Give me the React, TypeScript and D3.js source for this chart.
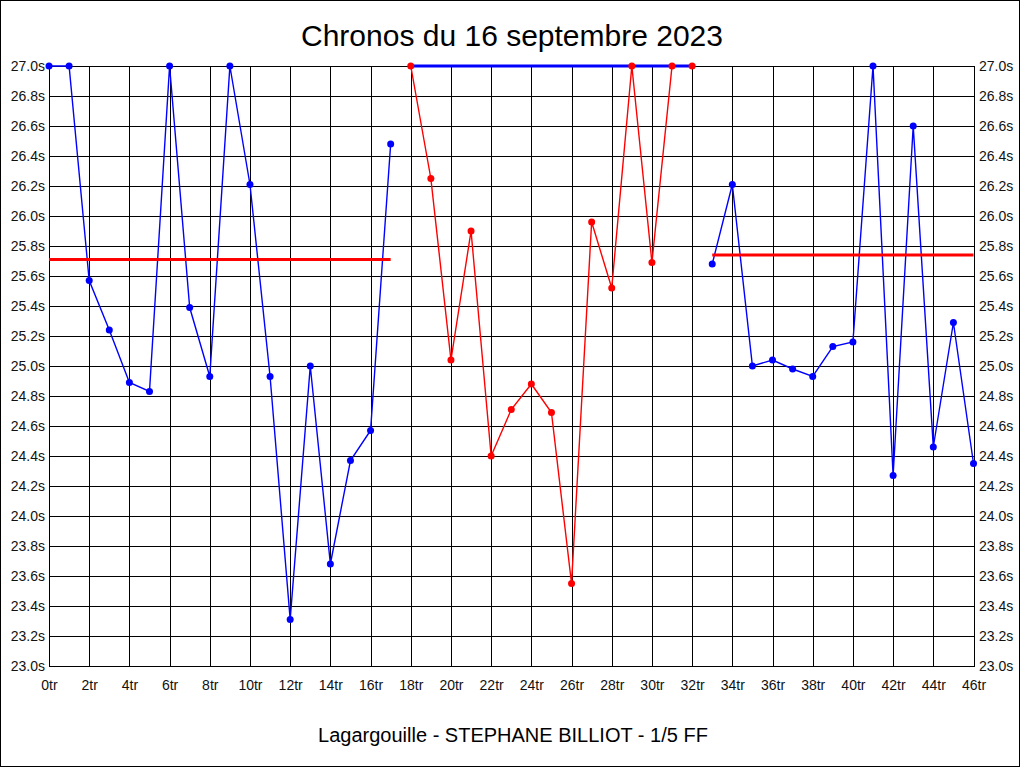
import * as d3 from "d3"

// lap times (points at 27.0 are clipped at the top of the chart)
const seriesA = [27.0, 27.0, 25.57, 25.24, 24.89, 24.83, 27.0, 25.39, 24.93, 27.0, 26.21, 24.93, 23.31, 25.0, 23.68, 24.37, 24.57, 26.48]
const seriesB = [27.0, 26.25, 25.04, 25.9, 24.4, 24.71, 24.88, 24.69, 23.55, 25.96, 25.52, 27.0, 25.69, 27.0, 27.0]
const seriesC = [25.68, 26.21, 25.0, 25.04, 24.98, 24.93, 25.13, 25.16, 27.0, 24.27, 26.6, 24.46, 25.29, 24.35]

const startA = 0
const startB = 18
const startC = 33

// average lines per run
const meanA = 25.71
const meanB = 27.0
const meanC = 25.74

const xTicks = [0, 2, 4, 6, 8, 10, 12, 14, 16, 18, 20, 22, 24, 26, 28, 30, 32, 34, 36, 38, 40, 42, 44, 46]
const yTicks = [23.0, 23.2, 23.4, 23.6, 23.8, 24.0, 24.2, 24.4, 24.6, 24.8, 25.0, 25.2, 25.4, 25.6, 25.8, 26.0, 26.2, 26.4, 26.6, 26.8, 27.0]

const title = "Chronos du 16 septembre 2023"
const subtitle = "Lagargouille - STEPHANE BILLIOT - 1/5 FF"

const BLUE = "#0000ff"
const RED = "#ff0000"
const font = "'Liberation Sans', Arial, sans-serif"

export default function App() {
  const width = 1024
  const height = 768
  const left = 49
  const right = 973.5
  const top = 66
  const bottom = 666

  const x = d3.scaleLinear().domain([0, 46]).range([left, right])
  const y = d3.scaleLinear().domain([23, 27]).range([bottom, top])
  const px = (v: number) => Math.round(v) + 0.5

  const runs = [
    { start: startA, values: seriesA, color: BLUE, mean: meanA, meanColor: RED },
    { start: startB, values: seriesB, color: RED, mean: meanB, meanColor: BLUE },
    { start: startC, values: seriesC, color: BLUE, mean: meanC, meanColor: RED },
  ].map((r) => ({ ...r, points: r.values.map((v, i) => ({ lap: r.start + i, v })) }))

  const line = d3
    .line<{ lap: number; v: number }>()
    .x((d) => x(d.lap))
    .y((d) => y(d.v))

  return (
    <div style={{ position: "fixed", left: 0, top: 0 }}>
      <svg width={width} height={height} style={{ display: "block", background: "#fff" }}>
        <rect x={0.5} y={0.5} width={1019} height={766} fill="#fff" stroke="#000" />

        <text x={512} y={46} textAnchor="middle" fontFamily={font} fontSize={30}>
          {title}
        </text>

        {/* grid */}
        <g stroke="#000" shapeRendering="crispEdges">
          {yTicks.map((t) => (
            <line key={"gy" + t} x1={left} x2={px(right)} y1={px(y(t))} y2={px(y(t))} />
          ))}
          {xTicks.map((t) => (
            <line key={"gx" + t} x1={px(x(t))} x2={px(x(t))} y1={top} y2={bottom} />
          ))}
          <line x1={px(right)} x2={px(right)} y1={top} y2={bottom} />
        </g>

        {/* y labels both sides */}
        {yTicks.map((t) => (
          <g key={"ly" + t} fontFamily={font} fontSize={14} fill="#111">
            <text x={45} y={y(t)} dy="0.36em" textAnchor="end">
              {t.toFixed(1) + "s"}
            </text>
            <text x={979} y={y(t)} dy="0.36em" textAnchor="start">
              {t.toFixed(1) + "s"}
            </text>
          </g>
        ))}

        {/* x labels */}
        {xTicks.map((t) => (
          <text key={"lx" + t} x={x(t) + 0.5} y={690} textAnchor="middle" fontFamily={font} fontSize={14} fill="#111">
            {t + "tr"}
          </text>
        ))}

        {/* series lines */}
        {runs.map((r, i) => (
          <path key={"l" + i} d={line(r.points) || ""} fill="none" stroke={r.color} strokeWidth={1.4} />
        ))}

        {/* mean lines */}
        {runs.map((r, i) => (
          <line
            key={"m" + i}
            x1={x(r.start)}
            x2={x(r.start + r.values.length - 1)}
            y1={y(r.mean)}
            y2={y(r.mean)}
            stroke={r.meanColor}
            strokeWidth={3}
          />
        ))}

        {/* markers */}
        {runs.map((r, i) =>
          r.points.map((p) => <circle key={"c" + i + "-" + p.lap} cx={x(p.lap)} cy={y(p.v)} r={3.5} fill={r.color} />)
        )}

        <text x={513} y={742} textAnchor="middle" fontFamily={font} fontSize={20}>
          {subtitle}
        </text>
      </svg>
    </div>
  )
}
